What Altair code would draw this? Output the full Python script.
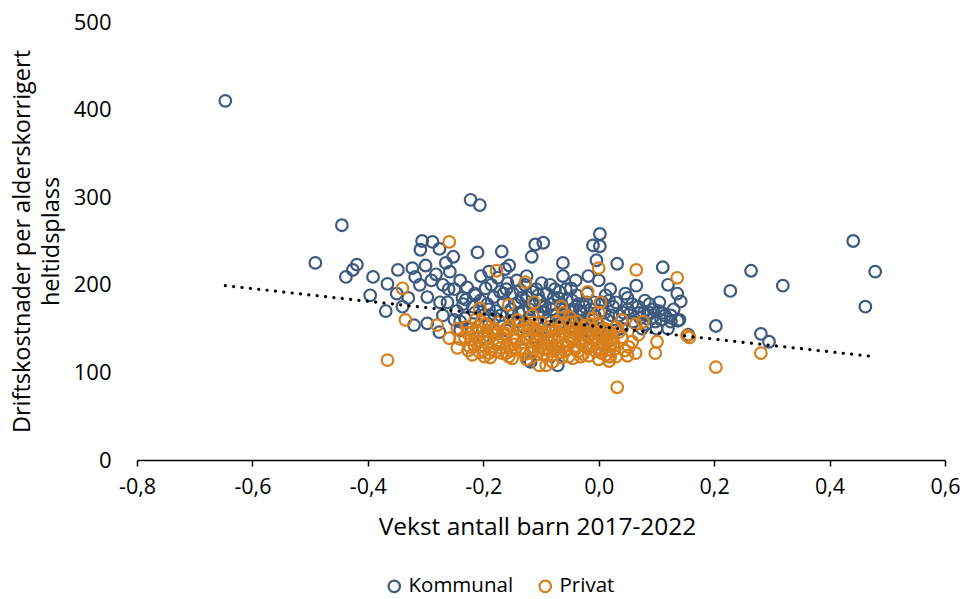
import altair as alt
import pandas as pd

# Kommunal points
kx = [-0.647, -0.491, -0.445, -0.438, -0.426, -0.419, -0.396, -0.391, -0.369, -0.366,
      -0.348, -0.340, -0.323, -0.320, -0.318, -0.309, -0.306, -0.297, -0.297, -0.288,
      -0.276, -0.276, -0.300, -0.290, -0.282, -0.270, -0.265, -0.262, -0.258, -0.252,
      -0.250, -0.246, -0.240, -0.236, -0.232, -0.228, -0.222, -0.218, -0.214, -0.210,
      -0.206, -0.204, -0.200, -0.196, -0.193, -0.190, -0.186, -0.182, -0.178, -0.175,
      -0.171, -0.168, -0.165, -0.162, -0.158, -0.155, -0.152, -0.149, -0.146, -0.142,
      -0.139, -0.136, -0.132, -0.128, -0.125, -0.122, -0.118, -0.116, -0.113, -0.110,
      -0.108, -0.105, -0.102, -0.099, -0.096, -0.093, -0.090, -0.087, -0.084, -0.081,
      -0.078, -0.074, -0.071, -0.068, -0.065, -0.062, -0.058, -0.055, -0.052, -0.048,
      -0.045, -0.042, -0.038, -0.035, -0.030, -0.026, -0.022, -0.018, -0.014, -0.010,
      -0.007, -0.004, 0.002, 0.002, 0.006, 0.010, 0.015, 0.020, 0.025, 0.032,
      0.036, 0.040, 0.046, 0.050, 0.055, 0.060, 0.065, 0.068, 0.072, 0.078,
      0.082, 0.088, 0.093, 0.098, 0.104, 0.108, 0.111, 0.115, 0.120, 0.125,
      0.130, 0.136, 0.137, 0.142, 0.155, 0.203, 0.228, 0.264, 0.281, 0.295,
      0.319, 0.441, 0.462, 0.479,
      -0.220, -0.190, -0.160, -0.130, -0.100, -0.070, -0.040, -0.010, 0.010, -0.180,
      -0.150, -0.120, -0.090, -0.060, -0.030, 0.000, 0.030, -0.200, -0.110, -0.050,
      -0.250, -0.240, -0.122,
      -0.235, -0.215, -0.205, -0.188, -0.172, -0.160, -0.145, -0.134, -0.120, -0.105,
      -0.095, -0.083, -0.070, -0.057, -0.046, -0.033, -0.020, -0.008, 0.004, 0.012,
      0.022, 0.030, 0.043, 0.058, 0.070, 0.085, 0.095, 0.110, 0.125, 0.140,
      -0.260, -0.275, -0.310, -0.330, -0.350, -0.270, -0.240, -0.180, -0.140, -0.080,
      -0.020, 0.040, 0.075, 0.100, 0.120,
      -0.215, -0.190, -0.165, -0.138, -0.115, -0.098, -0.076, -0.060, -0.040, -0.025,
      0.018, 0.050, 0.080, 0.105, -0.125, -0.062, 0.000, -0.170, -0.230, 0.090]
ky = [410, 225, 268, 209, 217, 223, 188, 209, 170, 201,
      217, 175, 219, 154, 209, 240, 250, 186, 156, 249,
      241, 146, 222, 205, 212, 200, 225, 180, 215, 232,
      195, 170, 205, 185, 162, 197, 297, 175, 188, 237,
      291, 210, 165, 196, 178, 215, 200, 186, 170, 208,
      192, 238, 180, 218, 202, 222, 172, 190, 160, 205,
      180, 194, 170, 200, 186, 160, 112, 232, 178, 246,
      195, 168, 182, 202, 248, 175, 190, 160, 200, 172,
      185, 165, 108, 192, 178, 225, 168, 183, 158, 196,
      172, 162, 188, 178, 168, 160, 180, 210, 172, 245,
      165, 228, 258, 244, 180, 168, 160, 195, 175, 224,
      165, 160, 190, 172, 168, 158, 199, 175, 162, 168,
      155, 178, 162, 158, 170, 160, 220, 165, 200, 158,
      172, 190, 159, 181, 143, 153, 193, 216, 144, 135,
      199, 250, 175, 215,
      150, 155, 148, 152, 150, 155, 148, 152, 145, 162,
      165, 163, 160, 162, 158, 150, 148, 140, 140, 140,
      160, 148, 114,
      178, 168, 182, 165, 158, 195, 178, 185, 172, 188,
      168, 178, 185, 195, 182, 170, 190, 180, 170, 188,
      165, 180, 168, 178, 168, 165, 172, 168, 165, 160,
      195, 180, 200, 185, 190, 165, 158, 148, 158, 150,
      148, 150, 150, 150, 150,
      190, 172, 190, 168, 192, 175, 195, 172, 205, 175,
      182, 185, 182, 180, 210, 210, 205, 165, 183, 168]

# Privat points
px = [-0.229, -0.221, -0.214, -0.208, -0.201, -0.196, -0.190, -0.186, -0.181, -0.176,
      -0.171, -0.168, -0.163, -0.158, -0.154, -0.149, -0.145, -0.141, -0.137, -0.133,
      -0.128, -0.124, -0.120, -0.116, -0.112, -0.108, -0.104, -0.100, -0.097, -0.093,
      -0.089, -0.086, -0.082, -0.078, -0.074, -0.071, -0.067, -0.063, -0.060, -0.056,
      -0.052, -0.049, -0.045, -0.041, -0.038, -0.034, -0.030, -0.027, -0.023, -0.019,
      -0.016, -0.012, -0.008, -0.005, -0.001, 0.003, 0.007, 0.010, 0.014, 0.018,
      0.022, 0.026, 0.030,
      -0.215, -0.198, -0.183, -0.170, -0.156, -0.143, -0.130, -0.118, -0.106, -0.095,
      -0.084, -0.073, -0.062, -0.050, -0.039, -0.028, -0.017, -0.006, 0.005, 0.016,
      -0.226, -0.218, -0.203, -0.193, -0.178, -0.166, -0.152, -0.139, -0.126, -0.114,
      -0.102, -0.091, -0.080, -0.069, -0.058, -0.047, -0.036, -0.025, -0.014, -0.003,
      0.008, 0.012, 0.024, -0.210, -0.185, -0.160, -0.135, -0.110, -0.088, -0.066,
      -0.043, -0.020, 0.000, -0.240, -0.245, -0.175, -0.122, -0.077, -0.032, 0.020,
      0.040, 0.045, -0.150, -0.080, -0.045, 0.000, -0.200, -0.125,
      -0.232, -0.219, -0.207, -0.194, -0.188, -0.173, -0.161, -0.147, -0.131, -0.119,
      -0.107, -0.096, -0.087, -0.072, -0.064, -0.053, -0.042, -0.031, -0.021, -0.010,
      0.001, 0.011, 0.019, 0.028, 0.035, -0.115, -0.050, -0.010, 0.040, 0.030,
      -0.366, -0.340, -0.335, -0.280, -0.259, -0.259, -0.228, -0.211, -0.223, -0.206,
      -0.190, -0.177, -0.127, -0.112, -0.156, -0.206, 0.000, -0.019, 0.003, 0.000,
      -0.065, -0.062, 0.020, 0.018, -0.103, -0.091, -0.160, 0.032, 0.065, 0.136,
      0.077, 0.064, 0.153, 0.157, 0.098, 0.064, 0.052, 0.058, 0.101, 0.017,
      0.069, 0.050, 0.203, 0.281, 0.007, -0.245]
py = [152, 138, 160, 146, 131, 155, 141, 126, 150, 136,
      158, 122, 145, 131, 153, 140, 126, 160, 148, 134,
      121, 155, 143, 129, 150, 137, 124, 157, 145, 132,
      119, 152, 140, 127, 148, 136, 123, 155, 143, 131,
      118, 150, 138, 126, 158, 146, 133, 121, 153, 141,
      129, 148, 136, 124, 156, 144, 131, 150, 138, 126,
      145, 133, 152,
      130, 118, 143, 128, 118, 137, 147, 122, 144, 126,
      134, 158, 129, 141, 130, 143, 119, 140, 122, 147,
      125, 146, 158, 134, 124, 139, 125, 154, 139, 157,
      130, 146, 120, 142, 124, 157, 124, 137, 155, 128,
      142, 120, 139, 152, 148, 150, 128, 135, 127, 150,
      145, 128, 138, 138, 128, 145, 150, 140, 150, 130,
      140, 125, 116, 112, 116, 115, 125, 115,
      140, 120, 135, 148, 117, 132, 143, 132, 125, 136,
      148, 121, 137, 129, 117, 135, 149, 118, 146, 132,
      126, 149, 136, 127, 146, 165, 163, 162, 160, 118,
      114, 196, 160, 154, 139, 249, 145, 140, 129, 123,
      122, 216, 203, 180, 177, 173, 219, 192, 180, 168,
      175, 168, 118, 113, 108, 108, 122, 83, 217, 208,
      158, 155, 142, 140, 122, 122, 129, 135, 135, 118,
      143, 119, 106, 122, 134, 150]

# Linear trend line
tx = [-0.647, 0.477]
ty = [199, 118]

BLUE = "#3D5A7E"
ORANGE = "#D67F1C"
FONT = "Open Sans"

pts = pd.DataFrame({
    "x": kx + px,
    "y": ky + py,
    "Type": ["Kommunal"] * len(kx) + ["Privat"] * len(px),
})
trend = pd.DataFrame({"x": tx, "y": ty})

xscale = alt.Scale(domain=[-0.8, 0.6], nice=False, zero=False)
yscale = alt.Scale(domain=[0, 500], nice=False)

points = alt.Chart(pts).mark_point(
    shape="circle", filled=False, size=135, strokeWidth=2.2, opacity=1
).encode(
    x=alt.X("x:Q", scale=xscale, axis=alt.Axis(
        values=[-0.8, -0.6, -0.4, -0.2, 0, 0.2, 0.4, 0.6],
        labelExpr="replace(replace(format(datum.value, '.1f'), '.', ','), '\u2212', '-')",
        labelFlush=False, labelOverlap=False,
        grid=False, domain=True, domainColor="#000000", domainWidth=1.5,
        ticks=True, tickSize=6, tickColor="#000000", tickWidth=1.5,
        labelFont=FONT, labelFontSize=21.5, labelColor="#000000", labelPadding=10,
        title="Vekst antall barn 2017-2022", titleFont=FONT, titleFontSize=24.5,
        titleFontWeight="normal", titleColor="#000000", titlePadding=18,
        titleX=400,
    )),
    y=alt.Y("y:Q", scale=yscale, axis=alt.Axis(
        values=[0, 100, 200, 300, 400, 500],
        grid=False, domain=False, ticks=False, labelOverlap=False,
        labelFont=FONT, labelFontSize=22, labelColor="#000000", labelPadding=26,
        title=["Driftskostnader per alderskorrigert", "heltidsplass"],
        titleFont=FONT, titleFontSize=23.5, titleFontWeight="normal",
        titleColor="#000000", titleLineHeight=29, titlePadding=10,
    )),
    color=alt.Color("Type:N", scale=alt.Scale(domain=["Kommunal", "Privat"], range=[BLUE, ORANGE]),
                    legend=alt.Legend(
                        title=None, orient="none", direction="horizontal",
                        legendX=247, legendY=554, symbolType="circle",
                        symbolSize=130, symbolStrokeWidth=2.2, symbolFillColor="white",
                        labelFont=FONT, labelFontSize=20.5, labelColor="#000000",
                        columnPadding=21, labelOffset=4,
                    )),
)

line = alt.Chart(trend).mark_line(
    color="#000000", strokeWidth=3.2, strokeDash=[0.1, 8.3], strokeCap="round"
).encode(x=alt.X("x:Q", scale=xscale), y=alt.Y("y:Q", scale=yscale))

chart = alt.layer(points, line).properties(
    width=808, height=438,
    autosize=alt.AutoSizeParams(type="none"),
    padding={"left": 129, "top": 14, "right": 16, "bottom": 140},
).configure_view(stroke=None)

chart.save("out.html", embed_options={"renderer": "svg", "actions": False})
